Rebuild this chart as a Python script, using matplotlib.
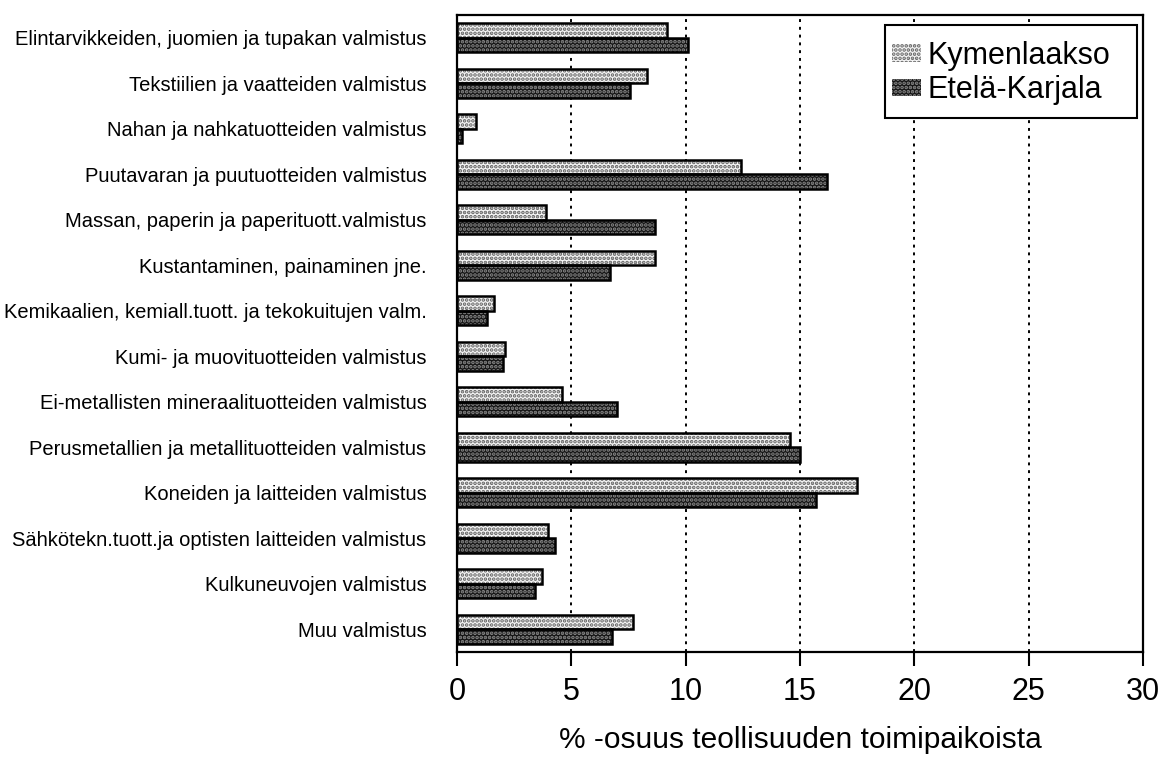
import matplotlib
matplotlib.use("Agg")
import matplotlib.pyplot as plt
import numpy as np
from matplotlib.patches import Patch, Rectangle

categories = [
    "Elintarvikkeiden, juomien ja tupakan valmistus",
    "Tekstiilien ja vaatteiden valmistus",
    "Nahan ja nahkatuotteiden valmistus",
    "Puutavaran ja puutuotteiden valmistus",
    "Massan, paperin ja paperituott.valmistus",
    "Kustantaminen, painaminen jne.",
    "Kemikaalien, kemiall.tuott. ja tekokuitujen valm.",
    "Kumi- ja muovituotteiden valmistus",
    "Ei-metallisten mineraalituotteiden valmistus",
    "Perusmetallien ja metallituotteiden valmistus",
    "Koneiden ja laitteiden valmistus",
    "Sähkötekn.tuott.ja optisten laitteiden valmistus",
    "Kulkuneuvojen valmistus",
    "Muu valmistus",
]
kymenlaakso = [9.2, 8.3, 0.85, 12.4, 3.9, 8.65, 1.6, 2.1, 4.6, 14.55, 17.5, 4.0, 3.7, 7.7]
etela_karjala = [10.1, 7.55, 0.2, 16.2, 8.65, 6.7, 1.3, 2.0, 7.0, 15.0, 15.7, 4.3, 3.4, 6.8]
series_names = ["Kymenlaakso", "Etelä-Karjala"]
xticks = [0, 5, 10, 15, 20, 25, 30]
xlabel = "% -osuus teollisuuden toimipaikoista"

plt.rcParams['font.family'] = ['Liberation Sans', 'DejaVu Sans']
plt.rcParams['hatch.linewidth'] = 1.8

W, H = 1166, 759
fig = plt.figure(figsize=(W/100, H/100), dpi=100)
ax = fig.add_axes([457/W, 1 - 652/H, (1143 - 457)/W, (652 - 15)/H])

y = np.arange(len(categories))
h = 0.32

light_face, light_hatch = '#f4f4f4', '#606060'
dark_face, dark_hatch = '#151515', '#8a8a8a'

# Kymenlaakso: light with dark dots
ax.barh(y - h/2, kymenlaakso, height=h, color=light_face, edgecolor=light_hatch,
        hatch='....', linewidth=0, zorder=2)
ax.barh(y - h/2, kymenlaakso, height=h, fill=False, edgecolor='black', linewidth=1.8, zorder=3)
# Etelä-Karjala: dark with light dots
ax.barh(y + h/2, etela_karjala, height=h, color=dark_face, edgecolor=dark_hatch,
        hatch='....', linewidth=0, zorder=2)
ax.barh(y + h/2, etela_karjala, height=h, fill=False, edgecolor='black', linewidth=1.8, zorder=3)

ax.set_xlim(0, 30)
ax.set_ylim(len(categories) - 0.5, -0.5)
ax.set_xticks(xticks)
ax.set_xticklabels([str(t) for t in xticks], fontsize=22)
ax.set_yticks(y)
ax.set_yticklabels(categories, fontsize=14.5)
ax.tick_params(axis='y', length=0, pad=22)
ax.tick_params(axis='x', length=10, width=1.5, direction='out', pad=8)
ax.set_xlabel(xlabel, fontsize=21.5, labelpad=14)

for xv in xticks[1:-1]:
    ax.axvline(xv, color='black', linestyle=(0, (1.5, 2.5)), linewidth=1.4, zorder=1)

for s in ax.spines.values():
    s.set_linewidth(1.6)

# legend frame drawn as a rectangle in figure pixels
frame = Rectangle((885/W, 1 - 118/H), (1137 - 885)/W, (118 - 25)/H,
                  transform=fig.transFigure, facecolor='white', edgecolor='black',
                  linewidth=1.5, zorder=4)
ax.add_artist(frame)
frame.set_clip_on(False)

handles = [
    Patch(facecolor=light_face, edgecolor=light_hatch, hatch='....', linewidth=0),
    Patch(facecolor=dark_face, edgecolor=dark_hatch, hatch='....', linewidth=0),
]
leg = ax.legend(handles, series_names, loc='center',
                bbox_to_anchor=(1001/W, 1 - 73/H), bbox_transform=fig.transFigure,
                fontsize=22, frameon=False,
                handlelength=0.95, handleheight=0.5, handletextpad=0.2,
                borderpad=0, labelspacing=0.15, borderaxespad=0)
leg.set_zorder(5)

fig.savefig("out.png", dpi=100, facecolor='white')
